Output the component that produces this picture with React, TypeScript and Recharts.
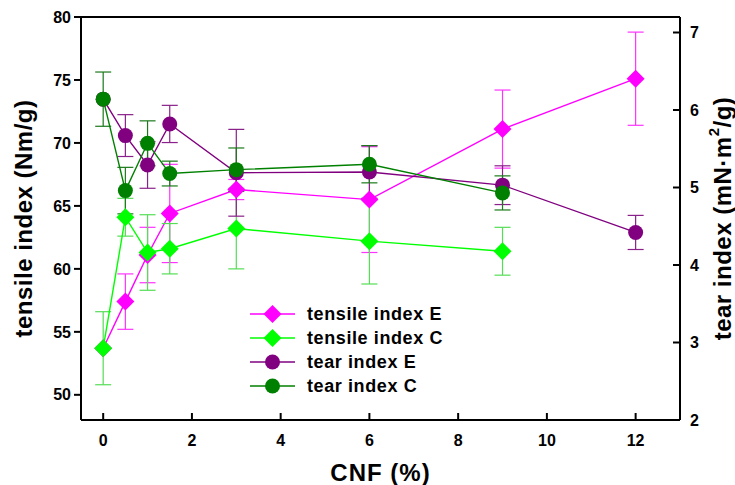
import { LineChart, Line, XAxis, YAxis, ErrorBar, ReferenceLine, Legend } from 'recharts';

// CNF loading (%)
const cnfE = [0, 0.5, 1, 1.5, 3, 6, 9, 12];
const cnfC = [0, 0.5, 1, 1.5, 3, 6, 9];

// tensile index (Nm/g)
const tensileE = [53.7, 57.4, 61.1, 64.4, 66.3, 65.5, 71.1, 75.1];
const tensileEErr = [0, 2.2, 2.2, 3.9, 0.8, 4.2, 3.1, 3.7];
const tensileC = [53.7, 64.1, 61.3, 61.6, 63.2, 62.2, 61.4];
const tensileCErr = [2.9, 1.5, 3.0, 2.0, 3.2, 3.4, 1.9];

// tear index (mN·m²/g)
const tearE = [6.14, 5.67, 5.29, 5.82, 5.19, 5.2, 5.03, 4.42];
const tearEErr = [0, 0.27, 0.3, 0.24, 0.56, 0.34, 0.25, 0.22];
const tearC = [6.14, 4.96, 5.57, 5.18, 5.23, 5.3, 4.93];
const tearCErr = [0.35, 0.3, 0.29, 0.16, 0.28, 0.24, 0.22];

const xTicks = [0, 2, 4, 6, 8, 10, 12];
const leftTicks = [50, 55, 60, 65, 70, 75, 80];
const rightTicks = [2, 3, 4, 5, 6, 7];

const rows = (xs: number[], ys: number[], errs: number[]) =>
  xs.map((x, i) => ({ x, y: ys[i], err: errs[i] }));

const FONT = '"Liberation Sans", Arial, sans-serif';
const tickStyle = { fontSize: 16, fontWeight: 700, fill: '#000', fontFamily: FONT };

const SERIES = [
  { name: 'tensile index E', color: '#ff00ff', errColor: '#ff33ff', shape: 'diamond', axis: 'left', data: rows(cnfE, tensileE, tensileEErr) },
  { name: 'tensile index C', color: '#00ff00', errColor: '#55dd55', shape: 'diamond', axis: 'left', data: rows(cnfC, tensileC, tensileCErr) },
  { name: 'tear index E', color: '#800080', errColor: '#8a208a', shape: 'circle', axis: 'right', data: rows(cnfE, tearE, tearEErr) },
  { name: 'tear index C', color: '#008000', errColor: '#1a7a1a', shape: 'circle', axis: 'right', data: rows(cnfC, tearC, tearCErr) },
];

function Marker({ cx, cy, shape, color }: { cx: number; cy: number; shape: string; color: string }) {
  if (shape === 'diamond') {
    const r = 9;
    return <path d={`M${cx},${cy - r}L${cx + r},${cy}L${cx},${cy + r}L${cx - r},${cy}Z`} fill={color} />;
  }
  return <circle cx={cx} cy={cy} r={7.5} fill={color} />;
}

function LegendBox() {
  return (
    <div style={{ fontFamily: FONT, fontWeight: 700, fontSize: 18 }}>
      {SERIES.map((s) => (
        <div key={s.name} style={{ display: 'flex', alignItems: 'center', height: 24 }}>
          <svg width={57} height={24}>
            <line x1={0} y1={12} x2={45} y2={12} stroke={s.color} strokeWidth={1.5} />
            <Marker cx={22.5} cy={12} shape={s.shape} color={s.color} />
          </svg>
          <span style={{ letterSpacing: 0.6 }}>{s.name}</span>
        </div>
      ))}
    </div>
  );
}

export default function App() {
  return (
    <div style={{ position: 'absolute', left: 0, top: 0, width: 735, height: 485, background: '#fff' }}>
      <LineChart width={735} height={485} margin={{ top: 17, right: 0, bottom: 0, left: 0 }}>
        <XAxis
          type="number"
          dataKey="x"
          domain={[-0.5, 13]}
          ticks={xTicks}
          allowDataOverflow
          height={65}
          tick={tickStyle}
          tickSize={-7}
          tickMargin={22}
          axisLine={{ stroke: '#000', strokeWidth: 2 }}
          tickLine={{ stroke: '#000', strokeWidth: 2 }}
          label={(p: any) => {
            const vb = p.viewBox;
            return (
              <text x={vb.x + vb.width / 2} y={vb.y + 61} textAnchor="middle" fontFamily={FONT} fontWeight={700} fontSize={24} letterSpacing={1}>
                CNF (%)
              </text>
            );
          }}
        />
        <YAxis
          yAxisId="left"
          domain={[48, 80]}
          ticks={leftTicks}
          allowDataOverflow
          width={81}
          tick={tickStyle}
          tickSize={7}
          tickMargin={3}
          axisLine={{ stroke: '#000', strokeWidth: 2 }}
          tickLine={{ stroke: '#000', strokeWidth: 2 }}
          label={(p: any) => {
            const vb = p.viewBox;
            const cx = vb.x + 23;
            const cy = vb.y + vb.height / 2;
            return (
              <text x={cx} y={cy} transform={`rotate(-90 ${cx} ${cy})`} textAnchor="middle" dominantBaseline="central" fontFamily={FONT} fontWeight={700} fontSize={24} letterSpacing={0.5}>
                tensile index (Nm/g)
              </text>
            );
          }}
        />
        <YAxis
          yAxisId="right"
          orientation="right"
          domain={[2, 7.2]}
          ticks={rightTicks}
          allowDataOverflow
          width={55}
          tick={tickStyle}
          tickSize={-7}
          tickMargin={17}
          axisLine={{ stroke: '#000', strokeWidth: 2 }}
          tickLine={{ stroke: '#000', strokeWidth: 2 }}
          label={(p: any) => {
            const vb = p.viewBox;
            const cx = vb.x + 42;
            const cy = vb.y + vb.height / 2;
            return (
              <text x={cx} y={cy} transform={`rotate(-90 ${cx} ${cy})`} textAnchor="middle" dominantBaseline="central" fontFamily={FONT} fontWeight={700} fontSize={24} letterSpacing={0.5}>
                tear index (mN·m<tspan dy={-9} fontSize={15}>2</tspan>
                <tspan dy={9}>/g)</tspan>
              </text>
            );
          }}
        />
        <ReferenceLine yAxisId="left" y={80} stroke="#000" strokeWidth={2} />
        {SERIES.map((s) => (
          <Line
            key={s.name}
            name={s.name}
            data={s.data}
            dataKey="y"
            yAxisId={s.axis}
            type="linear"
            stroke={s.color}
            strokeWidth={1.4}
            isAnimationActive={false}
            dot={(p: any) => <Marker key={`${s.name}-${p.index}`} cx={p.cx} cy={p.cy} shape={s.shape} color={s.color} />}
            activeDot={false}
          >
            <ErrorBar dataKey="err" width={8} stroke={s.errColor} strokeWidth={1.2} direction="y" />
          </Line>
        ))}
        <Legend
          layout="vertical"
          align="center"
          verticalAlign="middle"
          content={() => <LegendBox />}
          wrapperStyle={{ left: 250, top: 302, width: 240 }}
        />
      </LineChart>
    </div>
  );
}
